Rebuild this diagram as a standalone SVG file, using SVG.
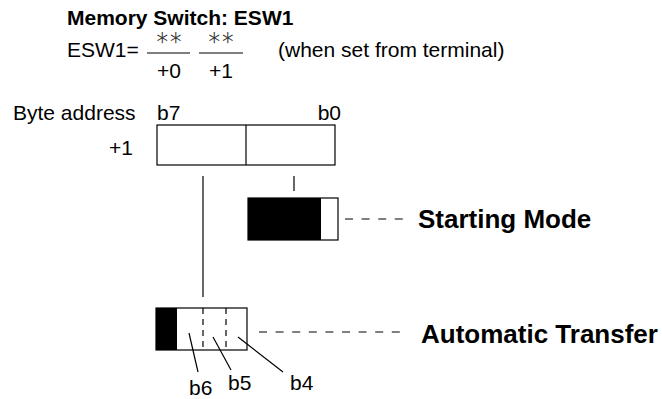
<svg xmlns="http://www.w3.org/2000/svg" width="662" height="399" viewBox="0 0 662 399">
<style>
.t{font-family:"Liberation Sans",Arial,sans-serif;font-size:21px;fill:#000}
.b{font-family:"Liberation Sans",Arial,sans-serif;font-weight:bold;fill:#000}
.ast{font-family:Inter,"DejaVu Sans",sans-serif;font-weight:200;font-size:27px;fill:#333}
.box{fill:#fff;stroke:#000;stroke-width:1.2}
.ln{stroke:#000;stroke-width:1.2;fill:none}
.dash{stroke:#000;stroke-width:1.2;stroke-dasharray:8 8.6;fill:none}
.vd{stroke:#000;stroke-width:1.2;stroke-dasharray:6 5;fill:none}
</style>
<rect width="662" height="399" fill="#fff"/>
<g id="title">
<text class="b" x="67" y="25" font-size="21">Memory Switch: ESW1</text>
</g>
<g id="equation">
<text class="t" x="67" y="57">ESW1=</text>
<text class="ast" x="169" y="52" text-anchor="middle">**</text>
<line class="ln" x1="147" y1="53" x2="190" y2="53"/>
<text class="t" x="169" y="78" text-anchor="middle">+0</text>
<text class="ast" x="221" y="52" text-anchor="middle">**</text>
<line class="ln" x1="199" y1="53" x2="243" y2="53"/>
<text class="t" x="221" y="78" text-anchor="middle">+1</text>
<text class="t" x="278" y="57">(when set from terminal)</text>
</g>
<g id="register">
<text class="t" x="13" y="120">Byte address</text>
<text class="t" x="157" y="120">b7</text>
<text class="t" x="341" y="120" text-anchor="end">b0</text>
<text class="t" x="133" y="155" text-anchor="end">+1</text>
<rect class="box" x="157" y="125" width="178" height="40"/>
<line class="ln" x1="246" y1="125" x2="246" y2="165"/>
</g>
<g id="starting-mode">
<rect class="box" x="248" y="198" width="90" height="42"/>
<rect x="248" y="198" width="73" height="42" fill="#000"/>
<text class="b" x="418" y="228" font-size="26">Starting Mode</text>
</g>
<g id="automatic-transfer">
<rect class="box" x="156" y="308" width="91" height="42"/>
<rect x="156" y="308" width="21" height="42" fill="#000"/>
<line class="vd" x1="203" y1="308" x2="203" y2="350"/>
<line class="vd" x1="226" y1="308" x2="226" y2="350"/>
<text class="b" x="421" y="343" font-size="26">Automatic Transfer</text>
</g>
<g id="bit-labels">
<text class="t" x="189" y="395">b6</text>
<text class="t" x="228" y="390">b5</text>
<text class="t" x="290" y="390">b4</text>
</g>
<g id="connectors">
<line class="ln" x1="203" y1="176" x2="203" y2="297"/>
<line class="ln" x1="294" y1="176" x2="294" y2="191"/>
<line class="dash" x1="345" y1="219" x2="403" y2="219"/>
<line class="dash" x1="259" y1="332" x2="400" y2="332"/>
<line class="ln" x1="189" y1="333" x2="198" y2="372"/>
<line class="ln" x1="213" y1="337" x2="231" y2="370"/>
<line class="ln" x1="238" y1="337" x2="283" y2="372"/>
</g>
</svg>
